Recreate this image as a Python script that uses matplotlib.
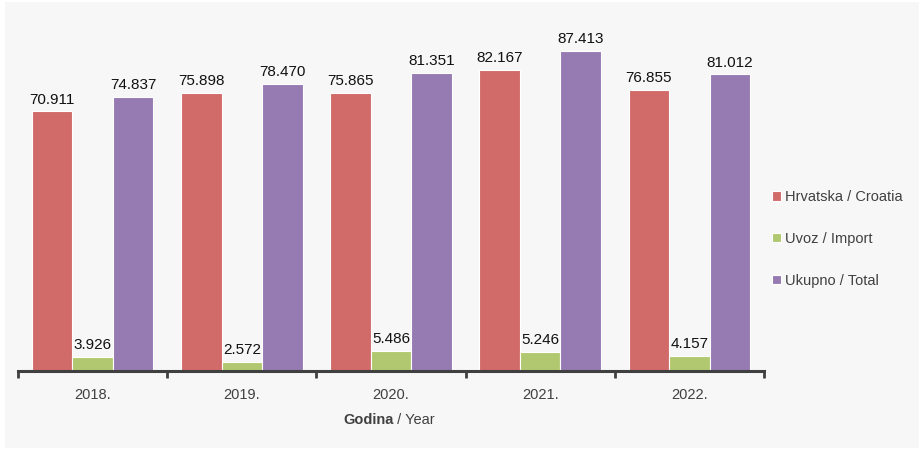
import numpy as np
import matplotlib.pyplot as plt
from matplotlib.patches import Rectangle

plt.rcParams['font.family'] = ['Liberation Sans', 'DejaVu Sans']

years = ['2018.', '2019.', '2020.', '2021.', '2022.']
croatia = [70.911, 75.898, 75.865, 82.167, 76.855]
imports = [3.926, 2.572, 5.486, 5.246, 4.157]
total = [74.837, 78.470, 81.351, 87.413, 81.012]

series = [
    ('Hrvatska / Croatia', croatia, '#d06b69'),
    ('Uvoz / Import', imports, '#b1c871'),
    ('Ukupno / Total', total, '#967ab2'),
]

W, H = 924, 450
fig = plt.figure(figsize=(W / 100, H / 100), dpi=100, facecolor='white')
fig.patches.append(Rectangle((5 / W, 2 / H), 914 / W, 446 / H, transform=fig.transFigure,
                             facecolor='#f7f7f7', edgecolor='none', zorder=-1))

ax = fig.add_axes([18 / W, (H - 371) / H, (764 - 18) / W, (371 - 5) / H])
ax.set_facecolor('none')

x = np.arange(len(years))
bw = 0.272
txt = '#404040'
for i, (name, vals, col) in enumerate(series):
    bars = ax.bar(x + (i - 1) * bw, vals, bw, color=col, edgecolor='white', linewidth=0.8,
                  label=name)
    for b, v in zip(bars, vals):
        ax.annotate('{:.3f}'.format(v), (b.get_x() + b.get_width() / 2, v),
                    xytext=(0, 3.5), textcoords='offset points', ha='center', va='bottom',
                    fontsize=11, color='#111111')

ax.set_xlim(-0.5, len(years) - 0.5)
ax.set_ylim(0, 100)
for s in ['top', 'right', 'left']:
    ax.spines[s].set_visible(False)
ax.spines['bottom'].set_color('#404040')
ax.spines['bottom'].set_linewidth(2.2)
ax.set_yticks([])
ax.set_xticks(x)
ax.set_xticklabels(years, fontsize=10.5, color=txt)
ax.tick_params(axis='x', which='major', length=0, pad=12)
ax.set_xticks(np.arange(-0.5, len(years)), minor=True)
ax.tick_params(axis='x', which='minor', length=5, width=2, color='#404040')

t1 = fig.text(343 / W, (H - 424) / H, 'Godina', fontsize=10.5, fontweight='bold', color=txt,
              ha='left', va='baseline')
fig.canvas.draw()
ax.annotate(' / Year', xy=(1, 0), xycoords=t1, va='bottom', ha='left', fontsize=10.5,
            color=txt)

leg = fig.legend(loc='upper left', bbox_to_anchor=(759 / W, (H - 177) / H), frameon=False,
                 fontsize=10.5, handlelength=0.6, handleheight=0.6, handletextpad=0.3,
                 labelspacing=1.9, labelcolor=txt)

fig.savefig('out.png', dpi=100, facecolor='white')
